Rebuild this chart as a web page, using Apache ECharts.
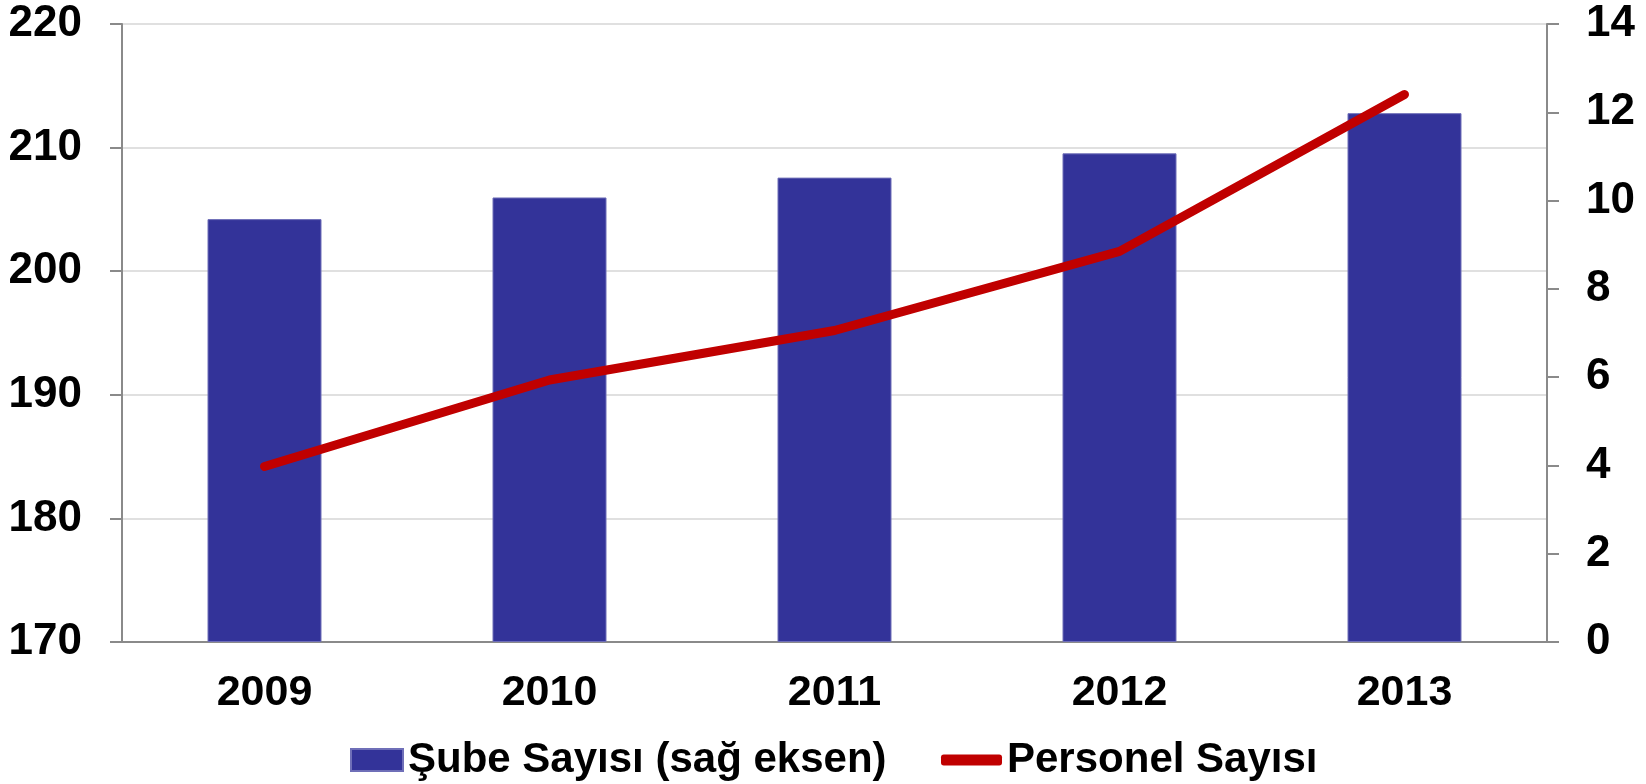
<!DOCTYPE html>
<html>
<head>
<meta charset="utf-8">
<script src="https://cdn.jsdelivr.net/npm/echarts@6/dist/echarts.min.js"></script>
<style>
  html, body { margin: 0; padding: 0; background: #fff; }
  #main { width: 1646px; height: 784px; }
</style>
</head>
<body>
<div id="main"></div>
<script>
// yıllar
const years = ['2009', '2010', '2011', '2012', '2013']
// Şube Sayısı (sağ eksen)
const subeSayisi = [9.58, 10.07, 10.52, 11.07, 11.98]
// Personel Sayısı (sol eksen)
const personelSayisi = [184.2, 191.2, 195.2, 201.6, 214.3]

const font = 'Arial, "Liberation Sans", sans-serif'
const axisGray = '#8a8a8a'

const myChart = echarts.init(document.getElementById('main'))

myChart.setOption({
  animation: false,
  backgroundColor: '#fff',
  grid: { left: 122, right: 99, top: 24, bottom: 142 },
  legend: [
    {
      left: 345, top: 734,
      itemWidth: 52, itemHeight: 22, itemGap: 0,
      textStyle: { fontSize: 42, fontWeight: 'bold', color: '#000', fontFamily: font },
      data: [{ name: 'Şube Sayısı (sağ eksen)', icon: 'rect' }]
    },
    {
      left: 936, top: 734,
      itemWidth: 61, itemHeight: 11, itemGap: 0,
      textStyle: { fontSize: 42, fontWeight: 'bold', color: '#000', fontFamily: font },
      data: [{ name: 'Personel Sayısı', icon: 'roundRect' }]
    }
  ],
  xAxis: {
    type: 'category',
    data: years,
    axisLine: { lineStyle: { color: axisGray, width: 2 } },
    axisTick: { length: 12, lineStyle: { color: axisGray, width: 2 } },
    axisLabel: { fontSize: 43, fontWeight: 'bold', color: '#000', fontFamily: font, margin: 30 }
  },
  yAxis: [
    {
      type: 'value', position: 'left', min: 170, max: 220, interval: 10,
      axisLine: { show: true, lineStyle: { color: axisGray, width: 2 } },
      axisTick: { show: true, length: 12, lineStyle: { color: axisGray, width: 2 } },
      axisLabel: { fontSize: 44, fontWeight: 'bold', color: '#000', fontFamily: font, margin: 40 },
      splitLine: { show: true, lineStyle: { color: '#d6d6d6', width: 1.5 } }
    },
    {
      type: 'value', position: 'right', min: 0, max: 14, interval: 2,
      axisLine: { show: true, lineStyle: { color: axisGray, width: 2 } },
      axisTick: { show: true, length: 12, lineStyle: { color: axisGray, width: 2 } },
      axisLabel: { fontSize: 44, fontWeight: 'bold', color: '#000', fontFamily: font, margin: 39 },
      splitLine: { show: false }
    }
  ],
  series: [
    {
      name: 'Şube Sayısı (sağ eksen)',
      type: 'bar',
      yAxisIndex: 1,
      data: subeSayisi,
      barWidth: '40%',
      itemStyle: { color: '#333399', borderColor: '#6f6fb8', borderWidth: 1 }
    },
    {
      name: 'Personel Sayısı',
      type: 'line',
      yAxisIndex: 0,
      data: personelSayisi,
      showSymbol: false,
      symbol: 'none',
      itemStyle: { color: '#c00000' },
      lineStyle: { color: '#c00000', width: 9, cap: 'round', join: 'round' }
    }
  ]
})
</script>
</body>
</html>
